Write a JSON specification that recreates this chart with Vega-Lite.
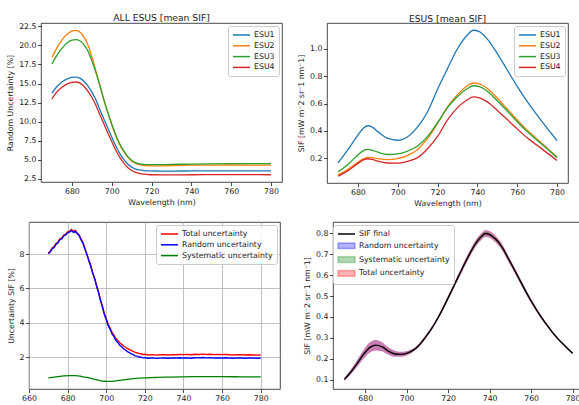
{
  "$schema": "https://vega.github.io/schema/vega-lite/v6.json",
  "background": "white",
  "padding": {"left": 5, "top": 13, "right": 0, "bottom": 0},
  "datasets": {
    "p1": [
      {"w": 670, "e1": 13.75, "e2": 18.45, "e3": 17.55, "e4": 13.0},
      {"w": 672, "e1": 14.45, "e2": 19.45, "e3": 18.5, "e4": 13.75},
      {"w": 675, "e1": 15.2, "e2": 20.7, "e3": 19.6, "e4": 14.5},
      {"w": 678, "e1": 15.65, "e2": 21.55, "e3": 20.4, "e4": 15.0},
      {"w": 680, "e1": 15.8, "e2": 21.88, "e3": 20.68, "e4": 15.15},
      {"w": 682, "e1": 15.85, "e2": 21.97, "e3": 20.75, "e4": 15.2},
      {"w": 684, "e1": 15.7, "e2": 21.75, "e3": 20.6, "e4": 15.05},
      {"w": 686, "e1": 15.3, "e2": 21.1, "e3": 20.1, "e4": 14.65},
      {"w": 688, "e1": 14.7, "e2": 20.1, "e3": 19.3, "e4": 14.0},
      {"w": 690, "e1": 13.9, "e2": 18.5, "e3": 18.0, "e4": 13.2},
      {"w": 692, "e1": 12.9, "e2": 16.7, "e3": 16.5, "e4": 12.2},
      {"w": 694, "e1": 11.6, "e2": 14.8, "e3": 14.8, "e4": 10.95},
      {"w": 696, "e1": 10.4, "e2": 12.9, "e3": 12.95, "e4": 9.75},
      {"w": 698, "e1": 9.2, "e2": 11.2, "e3": 11.25, "e4": 8.55},
      {"w": 700, "e1": 8.0, "e2": 9.6, "e3": 9.7, "e4": 7.4},
      {"w": 702, "e1": 6.85, "e2": 8.2, "e3": 8.3, "e4": 6.3},
      {"w": 704, "e1": 5.85, "e2": 7.0, "e3": 7.1, "e4": 5.35},
      {"w": 706, "e1": 5.05, "e2": 6.1, "e3": 6.2, "e4": 4.6},
      {"w": 708, "e1": 4.45, "e2": 5.35, "e3": 5.45, "e4": 4.0},
      {"w": 710, "e1": 4.05, "e2": 4.85, "e3": 4.95, "e4": 3.6},
      {"w": 712, "e1": 3.8, "e2": 4.55, "e3": 4.65, "e4": 3.35},
      {"w": 714, "e1": 3.68, "e2": 4.38, "e3": 4.48, "e4": 3.2},
      {"w": 716, "e1": 3.6, "e2": 4.28, "e3": 4.4, "e4": 3.12},
      {"w": 718, "e1": 3.56, "e2": 4.24, "e3": 4.37, "e4": 3.08},
      {"w": 720, "e1": 3.55, "e2": 4.22, "e3": 4.37, "e4": 3.05},
      {"w": 725, "e1": 3.53, "e2": 4.22, "e3": 4.38, "e4": 3.03},
      {"w": 730, "e1": 3.53, "e2": 4.25, "e3": 4.4, "e4": 3.03},
      {"w": 740, "e1": 3.55, "e2": 4.3, "e3": 4.45, "e4": 3.05},
      {"w": 750, "e1": 3.56, "e2": 4.32, "e3": 4.48, "e4": 3.06},
      {"w": 760, "e1": 3.57, "e2": 4.33, "e3": 4.5, "e4": 3.07},
      {"w": 770, "e1": 3.56, "e2": 4.32, "e3": 4.5, "e4": 3.06},
      {"w": 780, "e1": 3.55, "e2": 4.3, "e3": 4.5, "e4": 3.05}
    ],
    "p2": [
      {"w": 670, "e1": 0.166, "e2": 0.078, "e3": 0.1, "e4": 0.07},
      {"w": 675, "e1": 0.263, "e2": 0.12, "e3": 0.155, "e4": 0.11},
      {"w": 680, "e1": 0.37, "e2": 0.172, "e3": 0.225, "e4": 0.163},
      {"w": 683, "e1": 0.423, "e2": 0.198, "e3": 0.258, "e4": 0.19},
      {"w": 685, "e1": 0.438, "e2": 0.207, "e3": 0.265, "e4": 0.197},
      {"w": 687, "e1": 0.43, "e2": 0.205, "e3": 0.26, "e4": 0.193},
      {"w": 690, "e1": 0.395, "e2": 0.198, "e3": 0.245, "e4": 0.18},
      {"w": 695, "e1": 0.345, "e2": 0.19, "e3": 0.228, "e4": 0.166},
      {"w": 700, "e1": 0.332, "e2": 0.198, "e3": 0.232, "e4": 0.165},
      {"w": 705, "e1": 0.358, "e2": 0.222, "e3": 0.253, "e4": 0.178},
      {"w": 710, "e1": 0.43, "e2": 0.265, "e3": 0.29, "e4": 0.205},
      {"w": 715, "e1": 0.54, "e2": 0.345, "e3": 0.36, "e4": 0.27},
      {"w": 720, "e1": 0.705, "e2": 0.455, "e3": 0.46, "e4": 0.36},
      {"w": 725, "e1": 0.855, "e2": 0.575, "e3": 0.57, "e4": 0.48},
      {"w": 730, "e1": 1.0, "e2": 0.665, "e3": 0.652, "e4": 0.57},
      {"w": 735, "e1": 1.1, "e2": 0.73, "e3": 0.71, "e4": 0.628},
      {"w": 738, "e1": 1.135, "e2": 0.75, "e3": 0.73, "e4": 0.648},
      {"w": 741, "e1": 1.125, "e2": 0.743, "e3": 0.723, "e4": 0.642},
      {"w": 745, "e1": 1.07, "e2": 0.71, "e3": 0.69, "e4": 0.612},
      {"w": 750, "e1": 0.965, "e2": 0.64, "e3": 0.62, "e4": 0.55},
      {"w": 755, "e1": 0.845, "e2": 0.56, "e3": 0.545, "e4": 0.483},
      {"w": 760, "e1": 0.725, "e2": 0.48, "e3": 0.467, "e4": 0.415},
      {"w": 765, "e1": 0.615, "e2": 0.405, "e3": 0.395, "e4": 0.35},
      {"w": 770, "e1": 0.515, "e2": 0.34, "e3": 0.332, "e4": 0.295},
      {"w": 775, "e1": 0.42, "e2": 0.275, "e3": 0.27, "e4": 0.24},
      {"w": 780, "e1": 0.33, "e2": 0.21, "e3": 0.205, "e4": 0.185}
    ],
    "p3": [
      {"w": 670, "r": 8.02, "t": 8.07}, {"w": 671, "r": 8.12, "t": 8.17}, {"w": 672, "r": 8.31, "t": 8.36},
      {"w": 673, "r": 8.38, "t": 8.44}, {"w": 674, "r": 8.57, "t": 8.62}, {"w": 675, "r": 8.66, "t": 8.71},
      {"w": 676, "r": 8.84, "t": 8.89}, {"w": 677, "r": 8.88, "t": 8.94}, {"w": 678, "r": 9.06, "t": 9.11},
      {"w": 679, "r": 9.12, "t": 9.17}, {"w": 680, "r": 9.24, "t": 9.29}, {"w": 681, "r": 9.28, "t": 9.33},
      {"w": 682, "r": 9.38, "t": 9.43}, {"w": 683, "r": 9.27, "t": 9.32}, {"w": 684, "r": 9.33, "t": 9.38},
      {"w": 685, "r": 9.18, "t": 9.23}, {"w": 686, "r": 9.07, "t": 9.11}, {"w": 687, "r": 8.83, "t": 8.87},
      {"w": 688, "r": 8.62, "t": 8.66}, {"w": 689, "r": 8.28, "t": 8.32}, {"w": 690, "r": 7.97, "t": 8.0},
      {"w": 691, "r": 7.61, "t": 7.64}, {"w": 692, "r": 7.29, "t": 7.32}, {"w": 693, "r": 6.88, "t": 6.91},
      {"w": 694, "r": 6.57, "t": 6.6}, {"w": 695, "r": 6.14, "t": 6.17}, {"w": 696, "r": 5.77, "t": 5.8},
      {"w": 697, "r": 5.31, "t": 5.35}, {"w": 698, "r": 4.94, "t": 4.98}, {"w": 699, "r": 4.5, "t": 4.55},
      {"w": 700, "r": 4.19, "t": 4.24}, {"w": 701, "r": 3.85, "t": 3.91}, {"w": 702, "r": 3.62, "t": 3.69},
      {"w": 703, "r": 3.36, "t": 3.45}, {"w": 704, "r": 3.2, "t": 3.29}, {"w": 705, "r": 2.98, "t": 3.09},
      {"w": 706, "r": 2.86, "t": 2.98}, {"w": 707, "r": 2.7, "t": 2.84}, {"w": 708, "r": 2.61, "t": 2.75},
      {"w": 709, "r": 2.49, "t": 2.65}, {"w": 710, "r": 2.42, "t": 2.58}, {"w": 711, "r": 2.32, "t": 2.5},
      {"w": 712, "r": 2.27, "t": 2.45}, {"w": 713, "r": 2.19, "t": 2.38}, {"w": 714, "r": 2.15, "t": 2.34},
      {"w": 715, "r": 2.08, "t": 2.28}, {"w": 716, "r": 2.06, "t": 2.26}, {"w": 717, "r": 2.01, "t": 2.21},
      {"w": 718, "r": 2.0, "t": 2.2}, {"w": 719, "r": 1.96, "t": 2.16}, {"w": 720, "r": 1.97, "t": 2.17},
      {"w": 722, "r": 1.94, "t": 2.13}, {"w": 724, "r": 1.96, "t": 2.15}, {"w": 726, "r": 1.93, "t": 2.12},
      {"w": 728, "r": 1.95, "t": 2.14}, {"w": 730, "r": 1.96, "t": 2.15}, {"w": 732, "r": 1.94, "t": 2.13},
      {"w": 734, "r": 1.96, "t": 2.15}, {"w": 736, "r": 1.95, "t": 2.14}, {"w": 738, "r": 1.97, "t": 2.16},
      {"w": 740, "r": 1.95, "t": 2.15}, {"w": 742, "r": 1.96, "t": 2.16}, {"w": 744, "r": 1.94, "t": 2.14},
      {"w": 746, "r": 1.97, "t": 2.17}, {"w": 748, "r": 1.96, "t": 2.16}, {"w": 750, "r": 1.98, "t": 2.18},
      {"w": 752, "r": 1.96, "t": 2.16}, {"w": 754, "r": 1.97, "t": 2.17}, {"w": 756, "r": 1.95, "t": 2.15},
      {"w": 758, "r": 1.96, "t": 2.16}, {"w": 760, "r": 1.95, "t": 2.15}, {"w": 762, "r": 1.97, "t": 2.16},
      {"w": 764, "r": 1.95, "t": 2.14}, {"w": 766, "r": 1.94, "t": 2.13}, {"w": 768, "r": 1.96, "t": 2.15},
      {"w": 770, "r": 1.95, "t": 2.14}, {"w": 772, "r": 1.94, "t": 2.13}, {"w": 774, "r": 1.96, "t": 2.14},
      {"w": 776, "r": 1.95, "t": 2.13}, {"w": 778, "r": 1.94, "t": 2.12}, {"w": 780, "r": 1.95, "t": 2.13}
    ],
    "p3s": [
      {"w": 670, "v": 0.8}, {"w": 672, "v": 0.83}, {"w": 675, "v": 0.87}, {"w": 678, "v": 0.91},
      {"w": 681, "v": 0.93}, {"w": 684, "v": 0.93}, {"w": 687, "v": 0.89}, {"w": 690, "v": 0.82},
      {"w": 693, "v": 0.74}, {"w": 696, "v": 0.66}, {"w": 699, "v": 0.6}, {"w": 702, "v": 0.59},
      {"w": 705, "v": 0.62}, {"w": 708, "v": 0.67}, {"w": 711, "v": 0.71}, {"w": 714, "v": 0.75},
      {"w": 717, "v": 0.78}, {"w": 720, "v": 0.8}, {"w": 725, "v": 0.82}, {"w": 730, "v": 0.84},
      {"w": 740, "v": 0.86}, {"w": 750, "v": 0.87}, {"w": 760, "v": 0.87}, {"w": 770, "v": 0.86},
      {"w": 780, "v": 0.85}
    ],
    "p4": [
      {"w": 670, "sif": 0.101, "tlo": 0.093, "thi": 0.109, "rlo": 0.093, "rhi": 0.109, "slo": 0.1, "shi": 0.102},
      {"w": 673, "sif": 0.135, "tlo": 0.124, "thi": 0.146, "rlo": 0.124, "rhi": 0.146, "slo": 0.134, "shi": 0.136},
      {"w": 676, "sif": 0.175, "tlo": 0.159, "thi": 0.191, "rlo": 0.159, "rhi": 0.191, "slo": 0.173, "shi": 0.177},
      {"w": 679, "sif": 0.218, "tlo": 0.198, "thi": 0.238, "rlo": 0.198, "rhi": 0.238, "slo": 0.216, "shi": 0.22},
      {"w": 682, "sif": 0.252, "tlo": 0.228, "thi": 0.276, "rlo": 0.228, "rhi": 0.276, "slo": 0.25, "shi": 0.254},
      {"w": 685, "sif": 0.265, "tlo": 0.24, "thi": 0.29, "rlo": 0.24, "rhi": 0.29, "slo": 0.263, "shi": 0.267},
      {"w": 688, "sif": 0.258, "tlo": 0.236, "thi": 0.28, "rlo": 0.236, "rhi": 0.28, "slo": 0.256, "shi": 0.26},
      {"w": 691, "sif": 0.238, "tlo": 0.22, "thi": 0.256, "rlo": 0.22, "rhi": 0.256, "slo": 0.236, "shi": 0.24},
      {"w": 694, "sif": 0.224, "tlo": 0.209, "thi": 0.239, "rlo": 0.209, "rhi": 0.239, "slo": 0.222, "shi": 0.226},
      {"w": 697, "sif": 0.221, "tlo": 0.209, "thi": 0.233, "rlo": 0.209, "rhi": 0.233, "slo": 0.219, "shi": 0.223},
      {"w": 700, "sif": 0.226, "tlo": 0.216, "thi": 0.236, "rlo": 0.216, "rhi": 0.236, "slo": 0.225, "shi": 0.227},
      {"w": 703, "sif": 0.24, "tlo": 0.232, "thi": 0.248, "rlo": 0.232, "rhi": 0.248, "slo": 0.238, "shi": 0.242},
      {"w": 706, "sif": 0.265, "tlo": 0.257, "thi": 0.273, "rlo": 0.257, "rhi": 0.273, "slo": 0.263, "shi": 0.267},
      {"w": 709, "sif": 0.302, "tlo": 0.294, "thi": 0.31, "rlo": 0.294, "rhi": 0.31, "slo": 0.3, "shi": 0.304},
      {"w": 712, "sif": 0.344, "tlo": 0.335, "thi": 0.353, "rlo": 0.336, "rhi": 0.352, "slo": 0.341, "shi": 0.347},
      {"w": 715, "sif": 0.394, "tlo": 0.385, "thi": 0.403, "rlo": 0.386, "rhi": 0.402, "slo": 0.391, "shi": 0.397},
      {"w": 718, "sif": 0.451, "tlo": 0.441, "thi": 0.461, "rlo": 0.442, "rhi": 0.46, "slo": 0.447, "shi": 0.455},
      {"w": 721, "sif": 0.512, "tlo": 0.501, "thi": 0.523, "rlo": 0.502, "rhi": 0.522, "slo": 0.508, "shi": 0.516},
      {"w": 724, "sif": 0.574, "tlo": 0.562, "thi": 0.586, "rlo": 0.563, "rhi": 0.585, "slo": 0.569, "shi": 0.579},
      {"w": 727, "sif": 0.636, "tlo": 0.622, "thi": 0.65, "rlo": 0.623, "rhi": 0.649, "slo": 0.631, "shi": 0.641},
      {"w": 730, "sif": 0.695, "tlo": 0.68, "thi": 0.71, "rlo": 0.681, "rhi": 0.709, "slo": 0.689, "shi": 0.701},
      {"w": 733, "sif": 0.748, "tlo": 0.732, "thi": 0.764, "rlo": 0.733, "rhi": 0.763, "slo": 0.742, "shi": 0.754},
      {"w": 736, "sif": 0.785, "tlo": 0.768, "thi": 0.802, "rlo": 0.77, "rhi": 0.8, "slo": 0.778, "shi": 0.792},
      {"w": 738, "sif": 0.8, "tlo": 0.783, "thi": 0.817, "rlo": 0.784, "rhi": 0.816, "slo": 0.793, "shi": 0.807},
      {"w": 740, "sif": 0.795, "tlo": 0.778, "thi": 0.812, "rlo": 0.779, "rhi": 0.811, "slo": 0.788, "shi": 0.802},
      {"w": 743, "sif": 0.772, "tlo": 0.755, "thi": 0.789, "rlo": 0.757, "rhi": 0.787, "slo": 0.765, "shi": 0.779},
      {"w": 746, "sif": 0.735, "tlo": 0.719, "thi": 0.751, "rlo": 0.721, "rhi": 0.749, "slo": 0.729, "shi": 0.741},
      {"w": 749, "sif": 0.68, "tlo": 0.665, "thi": 0.695, "rlo": 0.667, "rhi": 0.693, "slo": 0.674, "shi": 0.686},
      {"w": 752, "sif": 0.625, "tlo": 0.612, "thi": 0.638, "rlo": 0.613, "rhi": 0.637, "slo": 0.62, "shi": 0.63},
      {"w": 755, "sif": 0.568, "tlo": 0.556, "thi": 0.58, "rlo": 0.557, "rhi": 0.579, "slo": 0.563, "shi": 0.573},
      {"w": 758, "sif": 0.512, "tlo": 0.501, "thi": 0.523, "rlo": 0.502, "rhi": 0.522, "slo": 0.508, "shi": 0.516},
      {"w": 761, "sif": 0.46, "tlo": 0.45, "thi": 0.47, "rlo": 0.451, "rhi": 0.469, "slo": 0.456, "shi": 0.464},
      {"w": 764, "sif": 0.412, "tlo": 0.403, "thi": 0.421, "rlo": 0.404, "rhi": 0.42, "slo": 0.408, "shi": 0.416},
      {"w": 767, "sif": 0.37, "tlo": 0.362, "thi": 0.378, "rlo": 0.363, "rhi": 0.377, "slo": 0.367, "shi": 0.373},
      {"w": 770, "sif": 0.33, "tlo": 0.323, "thi": 0.337, "rlo": 0.324, "rhi": 0.336, "slo": 0.327, "shi": 0.333},
      {"w": 773, "sif": 0.295, "tlo": 0.289, "thi": 0.301, "rlo": 0.289, "rhi": 0.301, "slo": 0.293, "shi": 0.297},
      {"w": 776, "sif": 0.265, "tlo": 0.259, "thi": 0.271, "rlo": 0.26, "rhi": 0.27, "slo": 0.263, "shi": 0.267},
      {"w": 780, "sif": 0.226, "tlo": 0.221, "thi": 0.231, "rlo": 0.222, "rhi": 0.23, "slo": 0.224, "shi": 0.228}
    ],
    "blank": [{"k": 0}]
  },
  "spacing": 8,
  "resolve": {"scale": {"color": "independent"}, "legend": {"color": "independent"}},
  "vconcat": [
    {
      "spacing": 0,
      "resolve": {"scale": {"color": "independent"}, "legend": {"color": "independent"}},
      "hconcat": [
        {"width": 1, "height": 1, "view": {"stroke": null}, "data": {"name": "blank"}, "mark": {"type": "text", "text": ""}},
        {
          "spacing": 14,
          "resolve": {"scale": {"color": "independent"}, "legend": {"color": "independent"}},
          "hconcat": [
            {
              "width": 241, "height": 159,
              "title": "ALL ESUS [mean SIF]",
              "data": {"name": "p1"},
              "encoding": {
                "x": {"field": "w", "type": "quantitative", "scale": {"domain": [664.5, 785.5], "nice": false, "zero": false},
                      "axis": {"values": [680, 700, 720, 740, 760, 780], "tickCount": 40, "format": "d", "title": "Wavelength (nm)", "labelOverlap": false}}
              },
              "layer": [
                {"mark": {"type": "line", "strokeWidth": 1.3, "interpolate": "monotone"},
                 "encoding": {"y": {"field": "e1", "type": "quantitative", "scale": {"domain": [2.1, 22.93], "nice": false, "zero": false},
                                    "axis": {"values": [2.5, 5, 7.5, 10, 12.5, 15, 17.5, 20, 22.5], "tickCount": 40, "format": ".1f", "title": "Random Uncertainty [%]", "labelOverlap": false}},
                              "color": {"datum": "ESU1", "scale": {"domain": ["ESU1", "ESU2", "ESU3", "ESU4"], "range": ["#1f77b4", "#ff7f0e", "#2ca02c", "#d62728"]},
                                        "legend": {"orient": "top-right", "title": null}}}},
                {"mark": {"type": "line", "strokeWidth": 1.3, "interpolate": "monotone"},
                 "encoding": {"y": {"field": "e2", "type": "quantitative"}, "color": {"datum": "ESU2"}}},
                {"mark": {"type": "line", "strokeWidth": 1.3, "interpolate": "monotone"},
                 "encoding": {"y": {"field": "e3", "type": "quantitative"}, "color": {"datum": "ESU3"}}},
                {"mark": {"type": "line", "strokeWidth": 1.3, "interpolate": "monotone"},
                 "encoding": {"y": {"field": "e4", "type": "quantitative"}, "color": {"datum": "ESU4"}}}
              ]
            },
            {
              "width": 241, "height": 160,
              "title": "ESUS [mean SIF]",
              "data": {"name": "p2"},
              "encoding": {
                "x": {"field": "w", "type": "quantitative", "scale": {"domain": [664.5, 785.5], "nice": false, "zero": false},
                      "axis": {"values": [680, 700, 720, 740, 760, 780], "tickCount": 40, "format": "d", "title": "Wavelength (nm)", "labelOverlap": false}}
              },
              "layer": [
                {"mark": {"type": "line", "strokeWidth": 1.3, "interpolate": "monotone"},
                 "encoding": {"y": {"field": "e1", "type": "quantitative", "scale": {"domain": [0.02, 1.188], "nice": false, "zero": false},
                                    "axis": {"values": [0.2, 0.4, 0.6, 0.8, 1.0], "tickCount": 40, "format": ".1f", "title": "SIF [mW m⁻2 sr⁻1 nm⁻1]", "labelOverlap": false}},
                              "color": {"datum": "ESU1", "scale": {"domain": ["ESU1", "ESU2", "ESU3", "ESU4"], "range": ["#1f77b4", "#ff7f0e", "#2ca02c", "#d62728"]},
                                        "legend": {"orient": "top-right", "title": null}}}},
                {"mark": {"type": "line", "strokeWidth": 1.3, "interpolate": "monotone"},
                 "encoding": {"y": {"field": "e2", "type": "quantitative"}, "color": {"datum": "ESU2"}}},
                {"mark": {"type": "line", "strokeWidth": 1.3, "interpolate": "monotone"},
                 "encoding": {"y": {"field": "e3", "type": "quantitative"}, "color": {"datum": "ESU3"}}},
                {"mark": {"type": "line", "strokeWidth": 1.3, "interpolate": "monotone"},
                 "encoding": {"y": {"field": "e4", "type": "quantitative"}, "color": {"datum": "ESU4"}}}
              ]
            }
          ]
        }
      ]
    },
    {
      "spacing": 0,
      "resolve": {"scale": {"color": "independent"}, "legend": {"color": "independent"}},
      "hconcat": [
        {"width": 1, "height": 1, "view": {"stroke": null}, "data": {"name": "blank"}, "mark": {"type": "text", "text": ""}},
        {
          "spacing": 22,
          "resolve": {"scale": {"color": "independent"}, "legend": {"color": "independent"}},
          "hconcat": [
            {
              "width": 251, "height": 167,
              "encoding": {
                "x": {"field": "w", "type": "quantitative", "scale": {"domain": [660, 790], "nice": false, "zero": false},
                      "axis": {"values": [660, 680, 700, 720, 740, 760, 780], "tickCount": 40, "format": "d", "title": "Wavelength [nm]", "grid": true, "labelOverlap": false}}
              },
              "layer": [
                {"data": {"name": "p3"},
                 "mark": {"type": "line", "strokeWidth": 1.4},
                 "encoding": {"y": {"field": "t", "type": "quantitative", "scale": {"domain": [0.15, 9.87], "nice": false, "zero": false},
                                    "axis": {"values": [2, 4, 6, 8], "tickCount": 40, "format": "d", "title": "Uncertainty SIF [%]", "grid": true, "labelOverlap": false}},
                              "color": {"datum": "Total uncertainty", "scale": {"domain": ["Total uncertainty", "Random uncertainty", "Systematic uncertainty"], "range": ["#ff0000", "#0000ff", "#008000"]},
                                        "legend": {"orient": "top-right", "title": null}}}},
                {"data": {"name": "p3"},
                 "mark": {"type": "line", "strokeWidth": 1.4},
                 "encoding": {"y": {"field": "r", "type": "quantitative"}, "color": {"datum": "Random uncertainty"}}},
                {"data": {"name": "p3s"},
                 "mark": {"type": "line", "strokeWidth": 1.3, "interpolate": "monotone"},
                 "encoding": {"y": {"field": "v", "type": "quantitative"}, "color": {"datum": "Systematic uncertainty"}}}
              ]
            },
            {
              "width": 251, "height": 167,
              "data": {"name": "p4"},
              "encoding": {
                "x": {"field": "w", "type": "quantitative", "scale": {"domain": [664.5, 785.5], "nice": false, "zero": false},
                      "axis": {"values": [680, 700, 720, 740, 760, 780], "tickCount": 40, "format": "d", "title": "Wavelength (nm)", "labelOverlap": false}}
              },
              "layer": [
                {"mark": {"type": "area", "interpolate": "monotone"},
                 "encoding": {"y": {"field": "rlo", "type": "quantitative", "scale": {"domain": [0.055, 0.855], "nice": false, "zero": false},
                                    "axis": {"values": [0.1, 0.2, 0.3, 0.4, 0.5, 0.6, 0.7, 0.8], "tickCount": 40, "format": ".1f", "title": "SIF [mW m⁻2 sr⁻1 nm⁻1]", "labelOverlap": false}},
                              "y2": {"field": "rhi"},
                              "color": {"datum": "Random uncertainty",
                                        "scale": {"domain": ["SIF final", "Random uncertainty", "Systematic uncertainty", "Total uncertainty"],
                                                  "range": ["#000000", "rgba(0,0,255,0.3)", "rgba(0,128,0,0.3)", "rgba(255,0,0,0.3)"]},
                                        "legend": {"orient": "none", "legendX": 0, "legendY": 3, "title": null,
                                                   "encode": {"symbols": {"update": {
                                                     "shape": {"signal": "datum.value === 'SIF final' ? 'M-1,0H3.25' : 'M-1,-0.7H3.25V0.7H-1Z'"},
                                                     "fill": {"signal": "datum.value === 'Random uncertainty' ? 'rgba(0,0,255,0.3)' : datum.value === 'Systematic uncertainty' ? 'rgba(0,128,0,0.3)' : datum.value === 'Total uncertainty' ? 'rgba(255,0,0,0.3)' : 'transparent'"},
                                                     "stroke": {"signal": "datum.value === 'SIF final' ? '#000000' : 'transparent'"},
                                                     "strokeWidth": {"value": 1.5},
                                                     "opacity": {"value": 1},
                                                     "fillOpacity": {"value": 1}
                                                   }}}}}}},
                {"mark": {"type": "area", "interpolate": "monotone"},
                 "encoding": {"y": {"field": "slo", "type": "quantitative"}, "y2": {"field": "shi"}, "color": {"datum": "Systematic uncertainty"}}},
                {"mark": {"type": "area", "interpolate": "monotone"},
                 "encoding": {"y": {"field": "tlo", "type": "quantitative"}, "y2": {"field": "thi"}, "color": {"datum": "Total uncertainty"}}},
                {"mark": {"type": "line", "strokeWidth": 1.4, "interpolate": "monotone"},
                 "encoding": {"y": {"field": "sif", "type": "quantitative"}, "color": {"datum": "SIF final"}}}
              ]
            }
          ]
        }
      ]
    }
  ],
  "config": {
    "font": "DejaVu Sans",
    "view": {"stroke": "#1a1a1a", "strokeWidth": 0.8},
    "title": {"font": "DejaVu Sans", "fontSize": 9.2, "fontWeight": "normal", "color": "#1a1a1a", "offset": -1},
    "axis": {"labelFont": "DejaVu Sans", "titleFont": "DejaVu Sans", "labelFontSize": 7.8, "titleFontSize": 7.8,
             "titleFontWeight": "normal", "labelColor": "#1a1a1a", "titleColor": "#1a1a1a", "tickColor": "#1a1a1a",
             "tickSize": 3.5, "tickWidth": 0.8, "domain": false, "grid": false, "gridColor": "#b0b0b0", "gridWidth": 0.8,
             "labelPadding": 1.5, "titlePadding": 4, "labelFlush": false, "labelOverlap": false, "minExtent": 0},
    "legend": {"labelFont": "DejaVu Sans", "labelFontSize": 7.8, "labelColor": "#1a1a1a", "symbolType": "M-1,0H3.25",
               "symbolStrokeWidth": 1.5, "symbolSize": 64, "rowPadding": 1.8, "padding": 4, "offset": 3,
               "fillColor": "rgba(255,255,255,0.8)", "strokeColor": "#cccccc", "cornerRadius": 2.5, "labelOffset": 12}
  }
}
